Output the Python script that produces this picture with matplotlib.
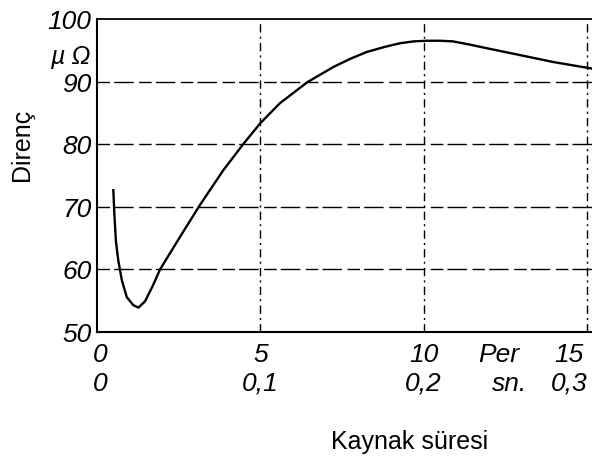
import matplotlib
matplotlib.use("Agg")
import matplotlib.pyplot as plt
from matplotlib.transforms import blended_transform_factory

# Data
period = [0.50, 0.53, 0.58, 0.65, 0.76, 0.91, 1.11, 1.27, 1.47, 1.70, 1.93, 2.54, 3.15, 3.87, 4.50, 5.0, 5.6, 6.45,
          7.24, 7.75, 8.26, 8.8, 9.28, 9.7, 10.1, 10.5, 10.9, 11.4, 11.94, 12.96, 13.97, 15.1, 15.3]
resistance = [72.7, 69.0, 64.5, 61.5, 58.3, 55.6, 54.3, 53.9, 54.9, 57.3, 60.0, 65.2, 70.3, 75.9, 80.2, 83.4, 86.6, 90.0,
              92.4, 93.7, 94.8, 95.6, 96.2, 96.5, 96.6, 96.6, 96.5, 96.0, 95.4, 94.3, 93.2, 92.2, 92.0]

yticks = [50, 60, 70, 80, 90, 100]
xticks = [0, 5, 10, 15]
xlabels_per = ["0", "5", "10", "15"]
xlabels_sn = ["0", "0,1", "0,2", "0,3"]

fig = plt.figure(figsize=(5.92, 4.65), dpi=100)
ax = fig.add_axes([97 / 592, 133 / 465, 495 / 592, 312.5 / 465])
ax.set_xlim(0, 15.16)
ax.set_ylim(50, 100)

fam = ["Liberation Sans", "DejaVu Sans"]
tick_font = dict(family=fam, style="italic", size=19)

# grid lines
for y in [60, 70, 80, 90]:
    ax.axhline(y, color="black", lw=1.0, ls=(0, (9, 3, 14, 4)))
ax.axhline(100, color="black", lw=1.3, clip_on=False)
for x in [5, 10, 15]:
    ax.axvline(x, color="black", lw=1.0, ls=(0, (6, 3, 1.5, 3)))

ax.plot(period, resistance, color="black", lw=1.7, solid_joinstyle="round")

for s in ["top", "right"]:
    ax.spines[s].set_visible(False)
ax.spines["left"].set_linewidth(1.5)
ax.spines["bottom"].set_linewidth(1.5)

ax.set_xticks([])
ax.set_yticks(yticks)
ax.set_yticklabels([str(v) for v in yticks], **tick_font)
ax.tick_params(axis="y", length=0, pad=4)

tr = blended_transform_factory(ax.transData, ax.transAxes)
for x, a, b in zip(xticks, xlabels_per, xlabels_sn):
    dx = 0.1 if x == 0 else (-0.55 if x == 15 else 0)
    ax.text(x + dx, -0.074, a, transform=tr, ha="center", va="center", **tick_font)
    ax.text(x + dx, -0.166, b, transform=tr, ha="center", va="center", **tick_font)
ax.text(12.3, -0.074, "Per", transform=tr, ha="center", va="center", **tick_font)
ax.text(12.65, -0.166, "sn.", transform=tr, ha="center", va="center", **tick_font)

ax.text(-0.2, 94.0, "µ Ω", ha="right", va="center", family=fam, style="italic", size=18, clip_on=False)

fig.text(22 / 592, 1 - 145 / 465, "Direnç", rotation=90, ha="center", va="center", family=fam, size=18)
fig.text(410 / 592, 1 - 442 / 465, "Kaynak süresi", ha="center", va="center", family=fam, size=18)

fig.savefig("out.png", dpi=100)
